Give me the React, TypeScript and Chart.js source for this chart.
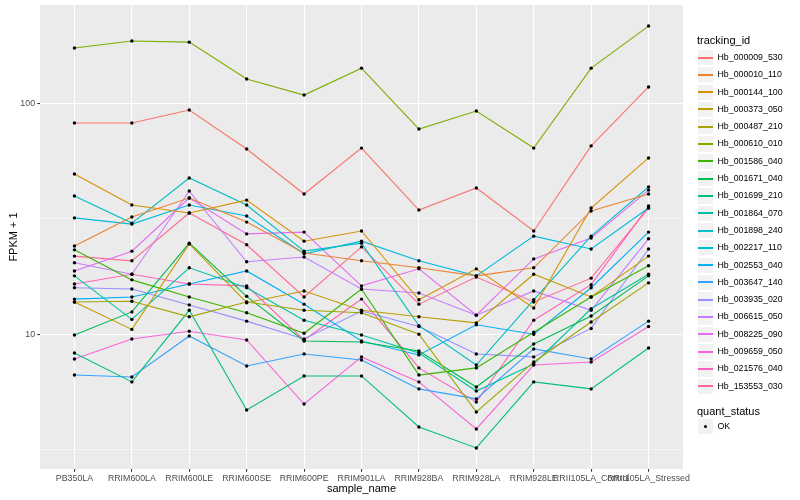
import React, { useEffect, useRef } from "react";
import { Chart, registerables } from "chart.js";

Chart.register(...registerables);

const FONT = "'Liberation Sans', Arial, Helvetica, sans-serif";

const categories = [
  "PB350LA", "RRIM600LA", "RRIM600LE", "RRIM600SE", "RRIM600PE", "RRIM901LA",
  "RRIM928BA", "RRIM928LA", "RRIM928LE", "RRII105LA_Control", "RRII105LA_Stressed",
];

const trackingIds = [
  "Hb_000009_530", "Hb_000010_110", "Hb_000144_100", "Hb_000373_050", "Hb_000487_210",
  "Hb_000610_010", "Hb_001586_040", "Hb_001671_040", "Hb_001699_210", "Hb_001864_070",
  "Hb_001898_240", "Hb_002217_110", "Hb_002553_040", "Hb_003647_140", "Hb_003935_020",
  "Hb_006615_050", "Hb_008225_090", "Hb_009659_050", "Hb_021576_040", "Hb_153553_030",
];

const seriesColors = [
  "#F8766D", "#EA8331", "#D89000", "#C09B00", "#A3A500", "#7CAE00", "#39B600", "#00BB4E",
  "#00BF7D", "#00C1A3", "#00BFC4", "#00BAE0", "#00B0F6", "#35A2FF", "#9590FF", "#C77CFF",
  "#E76BF3", "#FA62DB", "#FF62BC", "#FF6C91",
];

// FPKM + 1 values per sample (order of categories)
const hb_000009_530 = [82.2, 82.2, 93.5, 63.4, 40.5, 64.0, 34.5, 43.0, 28.0, 65.4, 117.7];
const hb_000010_110 = [24.1, 32.2, 38.9, 30.6, 22.5, 20.8, 19.4, 17.9, 19.4, 34.2, 40.5];
const hb_000144_100 = [49.4, 36.3, 33.5, 38.1, 25.3, 28.0, 14.1, 19.2, 13.0, 35.2, 58.0];
const hb_000373_050 = [13.8, 10.5, 24.6, 13.7, 15.4, 12.7, 11.9, 11.2, 18.2, 14.5, 21.8];
const hb_000487_210 = [13.8, 13.9, 11.9, 13.8, 12.7, 12.4, 10.0, 4.61, 7.59, 11.3, 16.7];
const hb_000610_010 = [173.5, 186, 184, 127.4, 108.6, 142, 77.4, 92.6, 64.0, 142, 216];
const hb_001586_040 = [23.2, 17.2, 14.5, 12.4, 10.1, 15.7, 6.66, 7.15, 10.2, 14.5, 19.8];
const hb_001671_040 = [9.93, 12.5, 24.8, 14.6, 9.35, 9.26, 8.47, 5.91, 9.08, 12.0, 17.9];
const hb_001699_210 = [8.3, 6.22, 12.7, 4.7, 6.6, 6.6, 3.97, 3.22, 6.22, 5.8, 8.72];
const hb_001864_070 = [17.9, 11.6, 19.4, 15.9, 11.5, 9.93, 8.3, 5.68, 7.44, 12.9, 18.2];
const hb_001898_240 = [39.7, 30.3, 47.5, 36.3, 22.9, 24.8, 10.9, 7.36, 14.1, 26.6, 43.4];
const hb_002217_110 = [31.9, 30.0, 36.3, 32.5, 22.3, 25.3, 20.8, 17.9, 26.6, 23.4, 35.2];
const hb_002553_040 = [14.2, 14.5, 16.5, 18.8, 13.5, 9.35, 8.14, 11.0, 10.0, 15.9, 27.7];
const hb_003647_140 = [6.66, 6.53, 9.83, 7.29, 8.22, 7.74, 5.8, 5.25, 8.64, 7.82, 11.4];
const hb_003935_020 = [15.9, 15.7, 13.4, 11.4, 9.54, 12.6, 10.8, 8.22, 7.98, 10.6, 23.4];
const hb_006615_050 = [20.4, 18.2, 41.7, 20.6, 21.6, 15.7, 15.1, 12.1, 15.4, 12.7, 25.9];
const hb_008225_090 = [18.8, 22.9, 38.9, 27.2, 27.7, 16.2, 19.2, 12.1, 21.2, 26.1, 42.1];
const hb_009659_050 = [7.82, 9.54, 10.3, 9.45, 4.99, 7.98, 6.22, 3.89, 7.36, 7.59, 10.8];
const hb_021576_040 = [16.5, 18.2, 16.5, 16.2, 9.45, 14.2, 7.15, 5.09, 11.5, 16.4, 35.9];
const hb_153553_030 = [21.8, 20.8, 33.5, 24.4, 14.5, 23.9, 13.5, 17.7, 13.8, 17.5, 35.2];

const seriesValues = [
  hb_000009_530, hb_000010_110, hb_000144_100, hb_000373_050, hb_000487_210,
  hb_000610_010, hb_001586_040, hb_001671_040, hb_001699_210, hb_001864_070,
  hb_001898_240, hb_002217_110, hb_002553_040, hb_003647_140, hb_003935_020,
  hb_006615_050, hb_008225_090, hb_009659_050, hb_021576_040, hb_153553_030,
];

const yMajorTicks = [10, 100];
const yMinorTicks = [3.1623, 31.623];
const yMin = 2.61;
const yMax = 266.5;

const panelBackground = {
  id: "panelBackground",
  beforeDraw(chart: any) {
    const { ctx, chartArea } = chart;
    ctx.save();
    ctx.fillStyle = "#EBEBEB";
    ctx.fillRect(chartArea.left, chartArea.top, chartArea.right - chartArea.left, chartArea.bottom - chartArea.top);
    ctx.restore();
  },
};

const pointsOnTop = {
  id: "pointsOnTop",
  afterDatasetsDraw(chart: any) {
    const ctx = chart.ctx;
    ctx.save();
    ctx.fillStyle = "#000000";
    chart.data.datasets.forEach((_: any, i: number) => {
      const meta = chart.getDatasetMeta(i);
      meta.data.forEach((pt: any) => {
        ctx.beginPath();
        ctx.arc(pt.x, pt.y, 1.7, 0, Math.PI * 2);
        ctx.fill();
      });
    });
    ctx.restore();
  },
};

function isMajor(v: any) {
  return yMajorTicks.some((t) => Math.abs(t - v) < 1e-6);
}

export default function App() {
  const canvasRef = useRef<HTMLCanvasElement | null>(null);

  useEffect(() => {
    if (!canvasRef.current) return;
    const datasets = seriesValues.map((vals, i) => ({
      label: trackingIds[i],
      data: vals.map((v, j) => ({ x: j, y: v })),
      borderColor: seriesColors[i],
      backgroundColor: seriesColors[i],
      borderWidth: 1.1,
      pointRadius: 0,
      tension: 0,
      fill: false,
    }));
    const chart = new Chart(canvasRef.current, {
      type: "line",
      data: { datasets },
      plugins: [panelBackground, pointsOnTop],
      options: {
        responsive: false,
        animation: false,
        layout: { padding: { left: 0, top: 5, right: 117, bottom: 0 } },
        plugins: { legend: { display: false }, tooltip: { enabled: false } },
        scales: {
          x: {
            type: "linear",
            min: -0.6,
            max: 10.6,
            afterBuildTicks: (s: any) => {
              s.ticks = categories.map((_, i) => ({ value: i }));
            },
            afterFit: (s: any) => {
              s.height = 31;
              s.paddingLeft = 0;
              s.paddingRight = 0;
            },
            ticks: {
              autoSkip: false,
              maxRotation: 0,
              minRotation: 0,
              padding: 1.5,
              color: "#4D4D4D",
              font: { family: FONT, size: 8.8 },
              callback: (v: any) => categories[v as number] ?? "",
            },
            grid: { color: "#FFFFFF", lineWidth: 1.07, tickColor: "#333333", tickLength: 2.75 },
            border: { display: false },
            title: {
              display: true,
              text: "sample_name",
              color: "#000000",
              font: { family: FONT, size: 11 },
              padding: { top: 0, bottom: 4.4 },
            },
          },
          y: {
            type: "logarithmic",
            min: yMin,
            max: yMax,
            afterBuildTicks: (s: any) => {
              s.ticks = [...yMinorTicks, ...yMajorTicks].sort((a, b) => a - b).map((v) => ({ value: v }));
            },
            afterFit: (s: any) => {
              s.width = 40;
              s.paddingTop = 0;
              s.paddingBottom = 0;
            },
            ticks: {
              autoSkip: false,
              padding: 2.2,
              color: "#4D4D4D",
              font: { family: FONT, size: 8.8 },
              callback: (v: any) => (isMajor(v) ? String(Math.round(v as number)) : ""),
            },
            grid: {
              color: "#FFFFFF",
              lineWidth: (c: any) => (c.tick && isMajor(c.tick.value) ? 1.07 : 0.53),
              tickColor: (c: any) => (c.tick && isMajor(c.tick.value) ? "#333333" : "rgba(0,0,0,0)"),
              tickLength: 2.75,
            },
            border: { display: false },
            title: {
              display: true,
              text: "FPKM + 1",
              color: "#000000",
              font: { family: FONT, size: 11 },
              padding: { top: 7, bottom: 0 },
            },
          },
        },
      } as any,
    });
    return () => chart.destroy();
  }, []);

  const rowH = 17.3;
  const firstRowTop = 48.9;

  return (
    <div style={{ position: "fixed", left: 0, top: 0, width: 800, height: 500, background: "#FFFFFF", fontFamily: FONT }}>
      <canvas ref={canvasRef} width={800} height={500} style={{ position: "absolute", left: 0, top: 0, width: 800, height: 500 }} />
      <div style={{ position: "absolute", left: 697, top: 34.2, fontSize: 11, lineHeight: "13px", color: "#000" }}>tracking_id</div>
      {trackingIds.map((id, i) => {
        const rowTop = firstRowTop + rowH * i;
        const lineTop = Math.round(rowTop + rowH / 2) - 1;
        return (
          <React.Fragment key={id}>
            <div
              style={{
                position: "absolute", left: 696.5, top: rowTop, width: 17.3, height: rowH,
                background: "#F2F2F2", boxSizing: "border-box", border: "0.6px solid #FFFFFF",
              }}
            />
            <div style={{ position: "absolute", left: 698, top: lineTop, width: 15, height: 1.5, background: seriesColors[i] }} />
            <div style={{ position: "absolute", left: 717.5, top: rowTop, height: rowH, lineHeight: rowH + "px", fontSize: 8.8, color: "#000", whiteSpace: "nowrap" }}>
              {id}
            </div>
          </React.Fragment>
        );
      })}
      <div style={{ position: "absolute", left: 697, top: 405.2, fontSize: 11, lineHeight: "13px", color: "#000" }}>quant_status</div>
      <div style={{ position: "absolute", left: 696.5, top: 418, width: 17.3, height: rowH, background: "#F2F2F2", boxSizing: "border-box", border: "0.6px solid #FFFFFF" }} />
      <div style={{ position: "absolute", left: 703.5, top: 425, width: 3.4, height: 3.4, borderRadius: 1.7, background: "#000" }} />
      <div style={{ position: "absolute", left: 717.5, top: 418, height: rowH, lineHeight: rowH + "px", fontSize: 8.8, color: "#000" }}>OK</div>
    </div>
  );
}
